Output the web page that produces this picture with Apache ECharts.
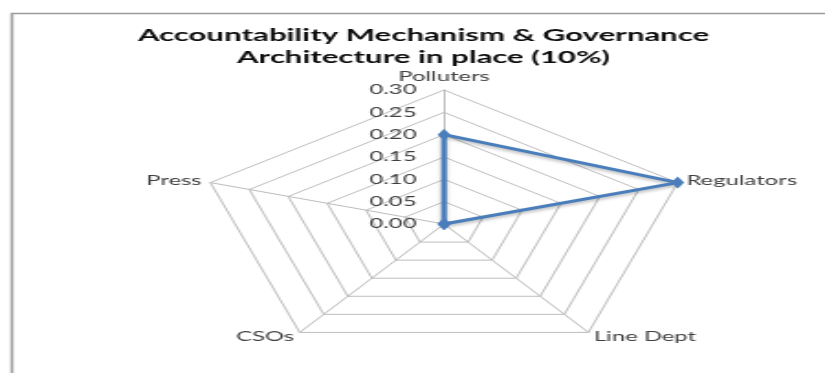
<!DOCTYPE html>
<html>
<head>
<meta charset="utf-8">
<script src="https://cdn.jsdelivr.net/npm/echarts@6/dist/echarts.min.js"></script>
<style>
  html, body { margin: 0; padding: 0; background: #ffffff; overflow: hidden; }
  #wrap { position: absolute; left: 0; top: 0; width: 825px; height: 373px; overflow: hidden; }
  #chart { position: absolute; left: 0; top: 0; width: 450px; height: 373px;
           transform: scaleX(1.83333); transform-origin: 0 0; }
</style>
</head>
<body>
<div id="wrap"><div id="chart"></div></div>
<script>
// ---- data ----
const titleLines = ['Accountability Mechanism & Governance', 'Architecture in place (10%)'];
const indicatorNames = ['Polluters', 'Press', 'CSOs', 'Line Dept', 'Regulators'];
const seriesValues = [0.20, 0.00, 0.00, 0.00, 0.30];
const axisMin = 0;
const axisMax = 0.30;
const axisSplits = 6;

const FONT = 'Lato, "Open Sans", sans-serif';
const chart = echarts.init(document.getElementById('chart'), null, { renderer: 'canvas' });

const indicators = indicatorNames.map((n, i) => {
  const o = { name: n, min: axisMin, max: axisMax };
  if (i === 0) o.axisLabel = { show: true };
  return o;
});

chart.setOption({
  animation: false,
  backgroundColor: '#ffffff',
  title: {
    text: titleLines.join('\n'),
    left: 226,
    top: 20,
    textAlign: 'center',
    textStyle: { fontFamily: FONT, fontWeight: 'bold', fontSize: 17, lineHeight: 22, color: '#0d0d0d' }
  },
  graphic: [{
    type: 'rect',
    shape: { x: 6.5, y: 13.5, width: 600, height: 500 },
    style: { fill: null, stroke: '#9a9a9a', lineWidth: 1.5 },
    silent: true,
    z: -1
  }],
  radar: {
    center: [242.2, 224],
    radius: 134,
    startAngle: 90,
    shape: 'polygon',
    splitNumber: axisSplits,
    indicator: indicators,
    nameGap: 5,
    axisName: { color: '#404040', fontFamily: FONT, fontSize: 13 },
    axisLine: { lineStyle: { color: '#bdbdbd', width: 1 } },
    splitLine: { lineStyle: { color: '#bdbdbd', width: 1 } },
    splitArea: { show: false },
    axisTick: { show: false },
    axisLabel: {
      show: false,
      color: '#404040',
      fontFamily: FONT,
      fontSize: 13,
      margin: 15,
      formatter: v => Number(v).toFixed(2)
    }
  },
  series: [{
    type: 'radar',
    symbol: 'diamond',
    symbolSize: [7, 12],
    lineStyle: { color: '#4a7ebb', width: 3, shadowColor: 'rgba(0,0,0,0.25)', shadowBlur: 3, shadowOffsetY: 2 },
    itemStyle: { color: '#4a7ebb' },
    data: [{ value: seriesValues, name: 'Series1' }]
  }]
});
</script>
</body>
</html>
